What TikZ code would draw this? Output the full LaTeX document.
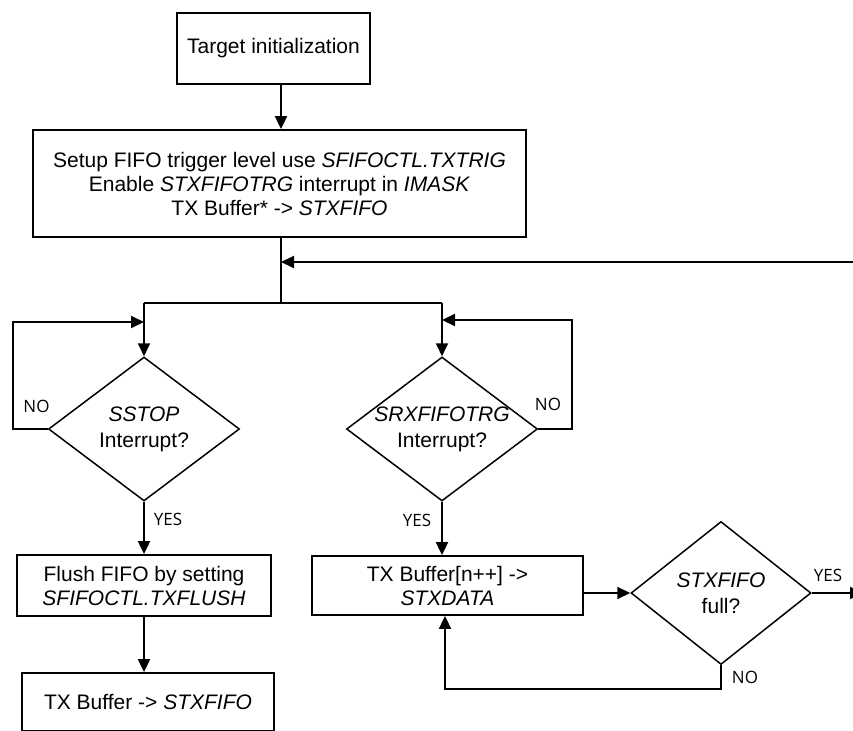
\documentclass[tikz,border=0pt]{standalone}
\usepackage{fontspec}
\setmainfont{Liberation Sans}
\newfontfamily\lblfam{Open Sans}
\usepackage{tikz}
\usetikzlibrary{arrows.meta,positioning,shapes.geometric}
\definecolor{ink}{HTML}{000000}
\tikzset{
  blk/.style={draw=ink, line width=1.8pt, rectangle, inner sep=0pt,
              align=center, font=\fontsize{21}{24}\selectfont},
  % decision: text box made a bit narrower so the long names fit the diamond
  dec/.style={draw=ink, line width=1.5pt, diamond, aspect=1.326,
              inner xsep=-4pt, inner ysep=0pt,
              minimum width=191pt, minimum height=144pt,
              align=center, font=\fontsize{21}{26}\selectfont},
  ar/.style={-{Triangle[length=13pt,width=12pt]}, line width=1.9pt, draw=ink},
  ln/.style={line width=1.9pt, draw=ink},
  lbl/.style={font=\lblfam\fontsize{17}{20}\selectfont, inner sep=0pt},
}
\begin{document}
\begin{tikzpicture}[x=1pt, y=-1pt]
  \useasboundingbox (0,0) rectangle (853,730);
  \clip (0,0) rectangle (853,730);

  \node[blk, minimum width=193pt, minimum height=71pt] (init) at (273.5,48.5)
       {Target initialization};
  \node[blk, minimum width=493pt, minimum height=107pt] (setup) at (279.5,183.5)
       {Setup FIFO trigger level use \textit{SFIFOCTL.TXTRIG}\\
        Enable \textit{STXFIFOTRG} interrupt in \textit{IMASK}\\
        TX Buffer* -> \textit{STXFIFO}};
  \node[dec] (sstop) at (144,429) {\textit{SSTOP}\\Interrupt?};
  \node[dec] (srx) at (442,429) {\textit{SRXFIFOTRG}\\Interrupt?};
  \node[blk, minimum width=254pt, minimum height=61pt] (flush) at (144,585.5)
       {Flush FIFO by setting\\\textit{SFIFOCTL.TXFLUSH}};
  \node[blk, minimum width=252pt, minimum height=58pt] (txfifo) at (148,702)
       {TX Buffer -> \textit{STXFIFO}};
  \node[blk, minimum width=271pt, minimum height=59pt] (txdata) at (447.5,585.5)
       {TX Buffer[n++] ->\\\textit{STXDATA}};
  \node[dec, minimum width=180pt, minimum height=143pt] (full) at (721,593)
       {\textit{STXFIFO}\\full?};

  % trunk and split to both decisions
  \coordinate (trunk) at (281,303);
  \draw[ar] (init.south -| trunk) -- (trunk |- setup.north);
  \draw[ln] (setup.south -| trunk) -- (trunk);
  \draw[ln] (sstop.north |- trunk) -- (srx.north |- trunk);
  \foreach \d in {sstop,srx}
    \draw[ar] (\d.north |- trunk) -- (\d.north);
  \coordinate (back) at (866,262);
  \draw[ar] (back) -- (back -| trunk);

  % NO loops back to the tops
  \coordinate (lloop) at (13,322);
  \draw[ar] (sstop.west) -| (lloop) -- (lloop -| sstop.north);
  \coordinate (rloop) at (572,320);
  \draw[ar] (srx.east) -| (rloop) -- (rloop -| srx.north);

  % YES paths
  \draw[ar] (sstop.south) -- (sstop.south |- flush.north);
  \draw[ar] (flush.south) -- (flush.south |- txfifo.north);
  \draw[ar] (srx.south) -- (srx.south |- txdata.north);
  \draw[ar] (full.west -| txdata.east) -- (full.west);
  \coordinate (nofull) at (445,689);
  \draw[ar] (full.south) |- (nofull) -- (nofull |- txdata.south);
  \coordinate (yesout) at (863,593);
  \draw[ar] (full.east) -- (yesout);

  \node[lbl] (no1) at (36.5,406) {NO};
  \node[lbl] (no2) at (548,404) {NO};
  \node[lbl] (yes1) at (168,519) {YES};
  \node[lbl] (yes2) at (417,520) {YES};
  \node[lbl] (yes3) at (828,575) {YES};
  \node[lbl] (no3) at (745,677) {NO};
\end{tikzpicture}
\end{document}
